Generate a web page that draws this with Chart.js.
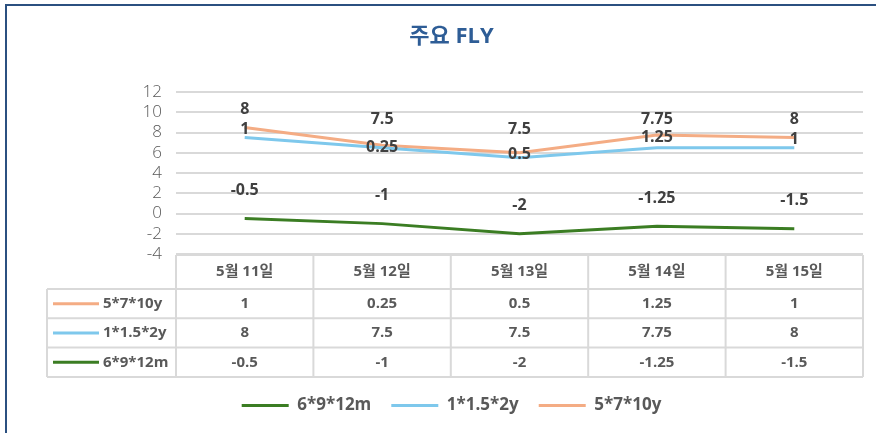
<!DOCTYPE html>
<html><head><meta charset="utf-8">
<script src="https://cdn.jsdelivr.net/npm/chart.js@4.4.0/dist/chart.umd.min.js"></script>
<style>html,body{margin:0;padding:0;background:#fff;} #wrap{position:relative;width:876px;height:433px;background:#fff;}</style>
</head><body><div id="wrap"><canvas id="c" width="876" height="433"></canvas></div>
<script>
const categories = ['5월 11일', '5월 12일', '5월 13일', '5월 14일', '5월 15일'];
const seriesNames = ['6*9*12m', '1*1.5*2y', '5*7*10y'];
const fly6912m = [-0.5, -1, -2, -1.25, -1.5];
const fly1152y = [8, 7.5, 7.5, 7.75, 8];
const fly5710y = [1, 0.25, 0.5, 1.25, 1];
const yMin = -4, yMax = 12, yStep = 2;

const seriesColors = ['#3B7D23', '#7EC8EC', '#F4AC84'];
const FONT = "'Open Sans','Noto Sans CJK KR',sans-serif";
const labelOffsets = [-28, -28, 2];

const fmt = v => String(v);

const tablePlugin = {
  id: 'tablePlugin',
  afterDatasetsDraw(chart) {
    const ctx = chart.ctx;
    ctx.save();
    ctx.font = 'bold 16px ' + FONT;
    ctx.fillStyle = '#404040';
    ctx.textAlign = 'center';
    ctx.textBaseline = 'middle';
    chart.data.datasets.forEach((ds, d) => {
      const meta = chart.getDatasetMeta(d);
      meta.data.forEach((el, i) => {
        ctx.fillText(fmt(ds.data[i]), el.x, el.y + labelOffsets[d]);
      });
    });
    ctx.restore();
  },
  afterDraw(chart) {
    const ctx = chart.ctx;
    const x = chart.scales.x;
    const area = chart.chartArea;
    const n = chart.data.labels.length;
    const step = x.getPixelForValue(1) - x.getPixelForValue(0);
    const colEdge = i => x.getPixelForValue(i) - step / 2;
    const right = colEdge(n);
    const tLeft = 47;
    const top = area.bottom + 1;
    const headH = 34;
    const rowH = 29.3;
    const nRows = chart.data.datasets.length;
    const bottom = top + headH + rowH * nRows;
    ctx.save();
    ctx.strokeStyle = '#D9D9D9';
    ctx.lineWidth = 2;
    ctx.beginPath();
    ctx.moveTo(area.left, top); ctx.lineTo(right, top);
    for (let r = 0; r <= nRows; r++) {
      const yy = top + headH + r * rowH;
      ctx.moveTo(tLeft, yy); ctx.lineTo(right, yy);
    }
    for (let i = 0; i <= n; i++) {
      const xx = colEdge(i);
      ctx.moveTo(xx, top); ctx.lineTo(xx, bottom);
    }
    ctx.moveTo(tLeft, top + headH); ctx.lineTo(tLeft, bottom);
    ctx.stroke();

    ctx.font = 'bold 15px ' + FONT;
    ctx.fillStyle = '#595959';
    ctx.textAlign = 'center';
    ctx.textBaseline = 'middle';
    chart.data.labels.forEach((lab, i) => {
      ctx.fillText(lab, x.getPixelForValue(i), top + headH / 2);
    });
    const order = chart.data.datasets.map((d, i) => i).reverse();
    order.forEach((d, r) => {
      const ds = chart.data.datasets[d];
      const cy = top + headH + r * rowH + rowH / 2;
      ctx.strokeStyle = ds.borderColor;
      ctx.lineWidth = 3;
      ctx.beginPath();
      ctx.moveTo(53, cy); ctx.lineTo(99, cy);
      ctx.stroke();
      ctx.textAlign = 'left';
      ctx.fillText(ds.label, 103, cy);
      ctx.textAlign = 'center';
      ds.data.forEach((v, i) => {
        ctx.fillText(fmt(v), x.getPixelForValue(i), cy);
      });
    });

    // frame
    ctx.fillStyle = '#2B5080';
    ctx.fillRect(5, 4, 876, 2);
    ctx.fillRect(5, 4, 2, 433);
    ctx.restore();
  }
};

const values = [fly6912m, fly1152y, fly5710y];
new Chart(document.getElementById('c'), {
  type: 'line',
  data: {
    labels: categories,
    datasets: seriesNames.map((name, i) => ({
      label: name,
      data: values[i],
      borderColor: seriesColors[i],
      backgroundColor: seriesColors[i],
      borderWidth: 3,
      pointRadius: 0,
      pointHoverRadius: 0,
      fill: false,
      tension: 0
    }))
  },
  options: {
    responsive: false,
    devicePixelRatio: 1,
    animation: false,
    events: [],
    layout: { padding: { left: 40, right: 13, top: 0, bottom: 9 } },
    plugins: {
      title: {
        display: true,
        text: '주요 FLY',
        color: '#2E5D96',
        font: { family: FONT, size: 22, weight: 'bold' },
        padding: { top: 24, bottom: 41.6 }
      },
      legend: {
        position: 'bottom',
        labels: {
          boxWidth: 47,
          boxHeight: 3,
          padding: 20,
          color: '#595959',
          font: { family: FONT, size: 17, weight: 'bold' },
          generateLabels(chart) {
            return chart.data.datasets.map((ds, i) => ({
              text: ds.label,
              fillStyle: ds.borderColor,
              strokeStyle: ds.borderColor,
              lineWidth: 0,
              hidden: false,
              datasetIndex: i,
              fontColor: '#595959'
            }));
          }
        }
      },
      tooltip: { enabled: false }
    },
    scales: {
      x: {
        type: 'category',
        offset: true,
        grid: { display: false },
        border: { display: false },
        ticks: { display: false },
        afterFit(s) { s.height = 123; }
      },
      y: {
        stacked: 'single',
        min: yMin,
        max: yMax,
        ticks: {
          stepSize: yStep,
          autoSkip: false,
          padding: 14,
          color: '#595959',
          font: { family: FONT, size: 17, weight: '300' }
        },
        grid: { color: '#D9D9D9', lineWidth: 2, drawTicks: false },
        border: { display: false },
        afterFit(s) { s.width = 136; }
      }
    }
  },
  plugins: [tablePlugin]
});
</script>
</body></html>
